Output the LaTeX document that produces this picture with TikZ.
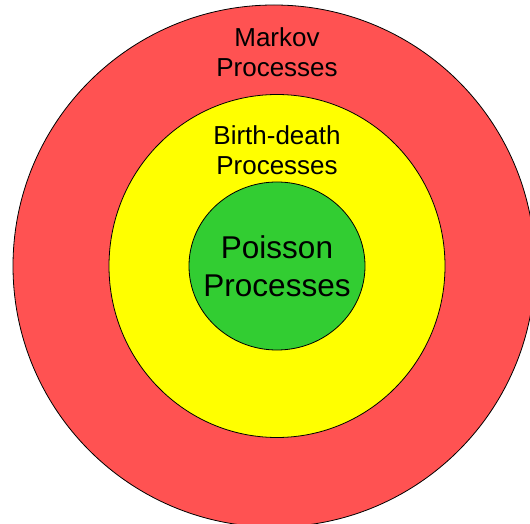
\documentclass[tikz,border=0pt]{standalone}
\usepackage{fontspec}
\setmainfont{Liberation Sans}
\usetikzlibrary{shapes.geometric}
\definecolor{ringred}{RGB}{255,82,82}
\definecolor{ringyellow}{RGB}{255,255,0}
\definecolor{ringgreen}{RGB}{50,205,50}
\tikzset{
  ring/.style={ellipse, draw=black, line width=0.8pt, inner sep=0pt},
  smalllabel/.style={align=center, font=\fontsize{26}{30}\selectfont, inner sep=0pt},
  biglabel/.style={align=center, font=\fontsize{31.5}{38}\selectfont, inner sep=0pt}
}
\begin{document}
\begin{tikzpicture}[x=1pt,y=1pt]
\useasboundingbox (0,0) rectangle (530,523);
\clip (0,0) rectangle (530,523);
\node[ring, fill=ringred, minimum width=522pt, minimum height=522pt] (markov) at (274,257) {};
\node[ring, fill=ringyellow, minimum width=336pt, minimum height=343pt] (birth) at (277,257) {};
\node[ring, fill=ringgreen, minimum width=176pt, minimum height=168pt] (poisson) at (277,257) {};
\node[smalllabel] (markovlabel) at (277,471) {Markov\\Processes};
\node[smalllabel] (birthlabel) at (277,373) {Birth-death\\Processes};
\node[biglabel] (poissonlabel) at (277,257) {Poisson\\Processes};
\end{tikzpicture}
\end{document}
